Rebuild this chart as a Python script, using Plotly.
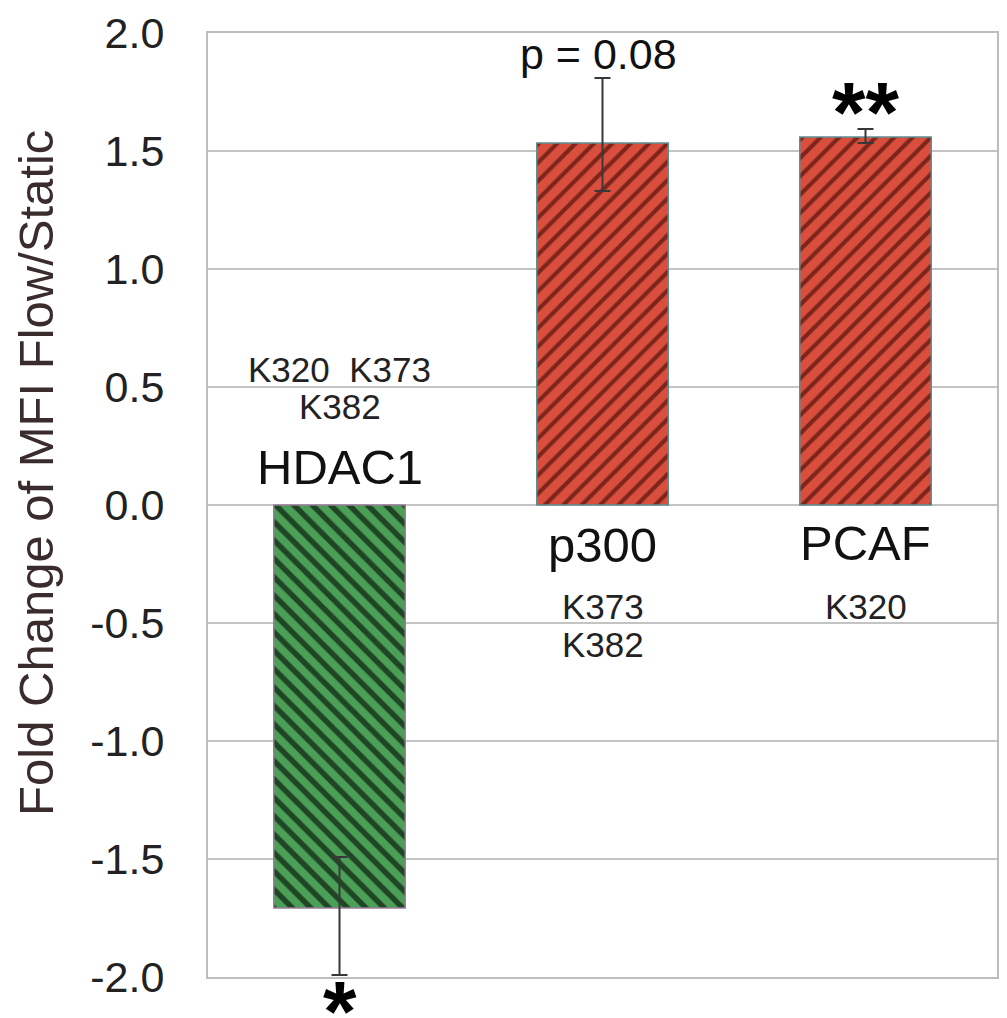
import plotly.graph_objects as go

categories = ["HDAC1", "p300", "PCAF"]
fold_change = [-1.708, 1.534, 1.559]
err_up = [0.216, 0.275, 0.034]
err_down = [0.284, 0.203, 0.025]
site_labels_above = {"HDAC1": ["K320\u00a0\u00a0K373", "K382"]}
site_labels_below = {"p300": ["K373", "K382"], "PCAF": ["K320"]}
significance = {"HDAC1": "*", "p300": "p = 0.08", "PCAF": "**"}
y_ticks = [-2.0, -1.5, -1.0, -0.5, 0.0, 0.5, 1.0, 1.5, 2.0]

bar_colors = ["#4c9f57", "#d94e3d", "#d94e3d"]
stripe_colors = ["#1f4525", "#7d251b", "#7d251b"]
stripe_shapes = ["\\", "/", "/"]
stripe_solidity = [0.42, 0.32, 0.32]
outline_colors = ["#9a7d9a", "#5e8f92", "#5e8f92"]

FONT = "Liberation Sans, Arial, sans-serif"

fig = go.Figure()
for i, cat in enumerate(categories):
    fig.add_trace(go.Bar(
        x=[cat], y=[fold_change[i]],
        marker=dict(
            color=bar_colors[i],
            line=dict(color=outline_colors[i], width=1.5),
            pattern=dict(shape=stripe_shapes[i], fgcolor=stripe_colors[i], bgcolor=bar_colors[i],
                         fgopacity=1, size=13, solidity=stripe_solidity[i], fillmode="replace"),
        ),
        error_y=dict(type="data", symmetric=False, array=[err_up[i]], arrayminus=[err_down[i]],
                     color="#383838", thickness=2, width=8),
        showlegend=False,
    ))

ann = []
for cat, lines in site_labels_above.items():
    ys = [0.576, 0.419]
    for t, yy in zip(lines, ys):
        ann.append(dict(x=cat, y=yy, text=t, showarrow=False, xanchor="center", yanchor="middle",
                        font=dict(size=35, color="#222222", family=FONT)))
for cat, lines in site_labels_below.items():
    ys = [-0.428, -0.593]
    for t, yy in zip(lines, ys):
        ann.append(dict(x=cat, y=yy, text=t, showarrow=False, xanchor="center", yanchor="middle",
                        font=dict(size=35, color="#222222", family=FONT)))
cat_y = {"HDAC1": 0.16, "p300": -0.17, "PCAF": -0.16}
for cat in categories:
    ann.append(dict(x=cat, y=cat_y[cat], text=cat, showarrow=False, xanchor="center", yanchor="middle",
                    font=dict(size=49, color="#111111", family=FONT)))
ann.append(dict(x="p300", y=1.91, xshift=-4, text=significance["p300"], showarrow=False,
                xanchor="center", yanchor="middle", font=dict(size=43, color="#111111", family=FONT)))
ann.append(dict(x="PCAF", y=1.665, text="<b>" + significance["PCAF"] + "</b>", showarrow=False,
                xanchor="center", yanchor="middle", font=dict(size=86, color="#000000", family=FONT)))
ann.append(dict(x="HDAC1", yref="paper", y=-0.036, text="<b>" + significance["HDAC1"] + "</b>",
                showarrow=False, xanchor="center", yanchor="middle",
                font=dict(size=86, color="#000000", family=FONT)))
ann.append(dict(xref="paper", yref="paper", x=-0.218, y=0.534, text="Fold Change of MFI Flow/Static",
                textangle=-90, showarrow=False, xanchor="center", yanchor="middle",
                font=dict(size=49, color="#3a2c2c", family=FONT)))

fig.update_layout(
    width=999, height=1010,
    margin=dict(l=200, r=10, t=25, b=41, autoexpand=False),
    paper_bgcolor="white", plot_bgcolor="white",
    barmode="overlay",
    bargap=0.5,
    annotations=ann,
    xaxis=dict(showticklabels=False, ticks="", showgrid=False, showline=True, linecolor="#bdbdbd",
               linewidth=2, mirror=True, zeroline=False, automargin=False),
    yaxis=dict(range=[-2, 2], tickvals=y_ticks, ticktext=[f"{v:.1f}" for v in y_ticks],
               showgrid=True, gridcolor="#c4c4c4", gridwidth=2, zeroline=False,
               showline=True, linecolor="#bdbdbd", linewidth=2, mirror=True,
               ticks="outside", ticklen=33, tickcolor="rgba(0,0,0,0)", automargin=False,
               tickfont=dict(size=43, color="#222222", family=FONT)),
)

fig.write_html("out.html")
